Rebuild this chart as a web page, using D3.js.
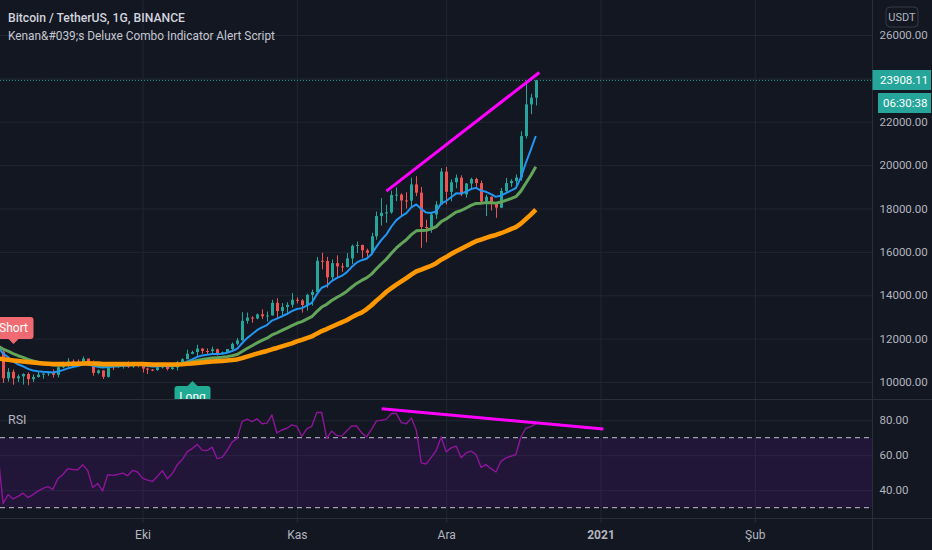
<!DOCTYPE html>
<html>
<head>
<meta charset="utf-8">
<script src="https://cdn.jsdelivr.net/npm/d3@7"></script>
<style>
    html, body { margin: 0; padding: 0; background: #131722; }
    svg { display: block; font-family: Roboto, "Noto Sans", sans-serif; }
</style>
</head>
<body>
<div id="chart"></div>
<script>
// daily BTC/USDT candles, 2 Sep - 19 Dec 2020 (first one sits just off the left edge)
const firstDay = "2020-09-02";
const lastDay = "2020-12-19";

const opens = [
    11964, 11398, 10170, 10470, 10170, 10260, 10370, 10130, 10230, 10340,
    10390, 10440, 10330, 10680, 10790, 10950, 10940, 10930, 11080, 10920,
    10420, 10530, 10240, 10740, 10690, 10730, 10780, 10710, 10840, 10780,
    10620, 10570, 10550, 10670, 10790, 10600, 10670, 10920, 11050, 11300,
    11380, 11540, 11430, 11425, 11510, 11320, 11370, 11520, 11760, 11920,
    12820, 12970, 12930, 13120, 13030, 13070, 13650, 13270, 13460, 13560,
    13790, 13760, 13550, 14020, 14150, 15590, 15580, 14830, 15480, 15330,
    15300, 15700, 16280, 16320, 16070, 15960, 16720, 17650, 17800, 17820,
    18620, 18640, 18370, 18360, 19110, 18730, 17150, 17140, 17720, 18180,
    19700, 18770, 19210, 19420, 18650, 19150, 19360, 19170, 18320, 18540,
    18250, 18040, 18810, 19170, 19270, 19430, 21340, 22800, 23110
];
const highs = [
    11964, 11462, 10640, 10580, 10350, 10400, 10440, 10350, 10480, 10400,
    10480, 10580, 10800, 10940, 11100, 11040, 11040, 11180, 11080, 10990,
    10580, 10540, 10780, 10760, 10780, 10800, 10950, 10860, 10850, 10920,
    10660, 10600, 10700, 10800, 10800, 10690, 10960, 11100, 11490, 11440,
    11720, 11560, 11550, 11630, 11540, 11400, 11520, 11820, 12030, 13220,
    13200, 13030, 13160, 13350, 13250, 13790, 13860, 13640, 13680, 14100,
    13900, 13820, 14070, 14260, 15770, 15960, 15770, 15650, 15840, 15480,
    15950, 16340, 16480, 16330, 16150, 16880, 17860, 18480, 18180, 18820,
    18970, 18700, 18750, 19420, 19490, 19000, 17480, 17850, 18340, 19860,
    19920, 19340, 19570, 19530, 19180, 19420, 19420, 19290, 18640, 18560,
    18290, 18950, 19410, 19350, 19570, 21560, 23800, 23290, 23920
];
const lows = [
    11160, 9960, 10020, 9875, 10000, 9880, 9850, 10000, 10200, 10150,
    10280, 10200, 10210, 10630, 10680, 10750, 10810, 10890, 10760, 10290,
    10360, 10140, 10200, 10550, 10650, 10620, 10650, 10650, 10670, 10440,
    10370, 10500, 10520, 10620, 10530, 10560, 10530, 10830, 11050, 11280,
    11180, 11300, 11260, 11270, 11220, 11300, 11340, 11400, 11690, 11900,
    12690, 12730, 12890, 12900, 12790, 13060, 12950, 12990, 13130, 13430,
    13620, 13200, 13290, 13520, 14100, 15190, 14350, 14700, 14800, 15080,
    15280, 15440, 15950, 15710, 15780, 15880, 16560, 17210, 17340, 17760,
    18340, 17610, 18000, 18020, 18570, 16190, 16440, 16880, 17520, 18180,
    18190, 18330, 18930, 18570, 18500, 18860, 18900, 18200, 17650, 17910,
    17570, 18020, 18710, 19000, 19050, 19280, 21230, 22350, 22750
];
const closes = [
    11398, 10170, 10470, 10170, 10260, 10370, 10130, 10230, 10340, 10390,
    10440, 10330, 10680, 10790, 10950, 10940, 10930, 11080, 10920, 10420,
    10530, 10240, 10740, 10690, 10730, 10780, 10710, 10840, 10780, 10620,
    10570, 10550, 10670, 10790, 10600, 10670, 10920, 11050, 11300, 11380,
    11540, 11430, 11425, 11510, 11320, 11370, 11520, 11760, 11920, 12820,
    12970, 12930, 13120, 13030, 13070, 13650, 13270, 13460, 13560, 13790,
    13760, 13550, 14020, 14150, 15590, 15580, 14830, 15480, 15330, 15300,
    15700, 16280, 16320, 16070, 15960, 16720, 17650, 17800, 17820, 18620,
    18640, 18370, 18360, 19110, 18730, 17150, 17140, 17720, 18180, 19700,
    18770, 19210, 19420, 18650, 19150, 19360, 19170, 18320, 18540, 18250,
    18040, 18810, 19170, 19270, 19430, 21340, 22800, 23110, 23908.11
];

// the three moving averages of the indicator script (blue / green / orange)
const maFast = [
    11600, 11314, 11145, 10950, 10812, 10724, 10605, 10530, 10492, 10472,
    10466, 10439, 10487, 10548, 10628, 10690, 10738, 10806, 10829, 10747,
    10704, 10671, 10697, 10708, 10724, 10747, 10752, 10782, 10794, 10771,
    10743, 10716, 10719, 10745, 10728, 10728, 10778, 10844, 10947, 11046,
    11157, 11224, 11257, 11296, 11290, 11305, 11346, 11429, 11527, 11786,
    12023, 12204, 12387, 12516, 12627, 12832, 12920, 13028, 13134, 13265,
    13364, 13401, 13525, 13650, 14038, 14346, 14443, 14651, 14787, 14890,
    15052, 15298, 15502, 15616, 15685, 15892, 16244, 16555, 16808, 17170,
    17464, 17645, 17788, 18052, 18188, 17980, 17812, 17794, 17871, 18237,
    18344, 18517, 18698, 18688, 18781, 18897, 18952, 18825, 18768, 18664,
    18539, 18593, 18709, 18821, 18943, 19422, 20098, 20700, 21342
];
const maMid = [
    11650, 11515, 11420, 11306, 11211, 11135, 11044, 10970, 10913, 10865,
    10826, 10781, 10772, 10774, 10790, 10804, 10815, 10839, 10846, 10807,
    10782, 10760, 10770, 10775, 10780, 10790, 10795, 10810, 10815, 10810,
    10800, 10790, 10790, 10800, 10795, 10795, 10815, 10845, 10890, 10940,
    10995, 11035, 11070, 11105, 11120, 11140, 11170, 11215, 11270, 11403,
    11545, 11671, 11803, 11915, 12020, 12168, 12268, 12376, 12484, 12603,
    12708, 12785, 12897, 13011, 13245, 13457, 13582, 13755, 13898, 14025,
    14177, 14368, 14545, 14684, 14800, 14975, 15218, 15453, 15668, 15936,
    16182, 16381, 16561, 16793, 16969, 16985, 16999, 17065, 17166, 17396,
    17521, 17675, 17834, 17908, 18021, 18143, 18236, 18244, 18271, 18269,
    18248, 18299, 18378, 18459, 18547, 18801, 19165, 19524, 19922
];
const maSlow = [
    11080, 11048, 11027, 10996, 10970, 10949, 10920, 10895, 10875, 10858,
    10843, 10830, 10830, 10830, 10835, 10840, 10845, 10855, 10860, 10855,
    10850, 10835, 10835, 10832, 10830, 10830, 10828, 10830, 10830, 10825,
    10818, 10810, 10808, 10810, 10805, 10803, 10808, 10818, 10836, 10856,
    10880, 10900, 10920, 10940, 10955, 10970, 10990, 11015, 11040, 11100,
    11170, 11240, 11310, 11370, 11430, 11510, 11570, 11640, 11710, 11780,
    11870, 11940, 12020, 12100, 12230, 12350, 12440, 12550, 12650, 12750,
    12850, 12980, 13100, 13200, 13350, 13540, 13750, 13950, 14160, 14330,
    14490, 14640, 14790, 14950, 15100, 15180, 15270, 15360, 15480, 15640,
    15760, 15900, 16030, 16140, 16260, 16380, 16490, 16570, 16650, 16720,
    16780, 16860, 16950, 17050, 17140, 17300, 17510, 17720, 17950
];

const rsiValues = [
    60, 32.5, 37.5, 35, 36.5, 38.3, 35.8, 37.5, 39.5, 41,
    42, 40.5, 46.5, 49, 52.3, 51.8, 51.7, 54.6, 51.2, 41.5,
    43.8, 39.6, 48.8, 48.5, 49, 49.8, 48.3, 51.3, 50.4, 46.9,
    45.8, 45, 48, 51.2, 46.5, 49.5, 54.6, 57.5, 62, 63.8,
    66.2, 62.9, 62.7, 64.6, 58, 58.8, 62.7, 67.5, 69.6, 79.2,
    80.6, 79.2, 80.8, 78, 78.3, 83, 72.7, 74.4, 75.4, 77.3,
    76.5, 70.8, 75, 76.5, 84.4, 84.4, 69.6, 73.8, 71.3, 70.9,
    73.8, 76.7, 76.7, 72.9, 70.4, 74.8, 79.6, 80, 80.6, 83.8,
    83.8, 78.6, 78, 81.2, 74.2, 55.6, 55, 58.8, 62.7, 70.4,
    61.9, 64.2, 65.2, 58.5, 61.3, 62.3, 60.4, 53.1, 54.6, 52.3,
    50.4, 56.5, 58.5, 59.4, 60.4, 70.4, 75.4, 76.3, 78
];

const priceTicks = [10000, 12000, 14000, 16000, 18000, 20000, 22000, 24000, 26000];
const priceLabelTicks = [10000, 12000, 14000, 16000, 18000, 20000, 22000, 26000]; // 24000 hidden by last price tag
const rsiTicks = [40, 60, 80];
const rsiBands = [30, 70];
const monthTicks = ["2020-10-01", "2020-11-01", "2020-12-01", "2021-01-01", "2021-02-01"];
const monthLabels = ["Eki", "Kas", "Ara", "2021", "Şub"];

const lastPrice = 23908.11;
const countdown = "06:30:38";
const currency = "USDT";
const titleText = "Bitcoin / TetherUS, 1G, BINANCE";
const studyText = "Kenan&#039;s Deluxe Combo Indicator Alert Script";

// alert labels of the script
const signalNames = ["Short", "Long"];
const signalDates = ["2020-09-05", "2020-10-11"];
const signalPrices = [11750, 10050];

// hand drawn divergence lines
const priceTrendDates = ["2020-11-19T00:00Z", "2020-12-19T17:00Z"];
const priceTrendValues = [18800, 24270];
const rsiTrendDates = ["2020-11-18T01:00Z", "2021-01-01T14:00Z"];
const rsiTrendValues = [86.5, 75];

const W = 932, H = 550;
const plotW = 872.5;        // right price scale starts here
const mainBottom = 399.5;
const rsiTop = 400, rsiBottom = 518.5;

const bg = "#131722", gridColor = "#222632", lineColor = "#2a2e39", textColor = "#b2b5be";
const up = "#26a69a", down = "#ef5350";

const days = d3.utcDays(new Date(firstDay), d3.utcDay.offset(new Date(lastDay), 1));
const candles = days.map((d, i) => ({date: d, o: opens[i], h: highs[i], l: lows[i], c: closes[i]}));

const x = d3.scaleUtc()
    .domain([new Date("2020-10-01"), new Date("2021-01-01")])
    .range([142.5, 600.5]);
const y = d3.scaleLinear().domain([10000, 26000]).range([382, 35]);
const rsiY = d3.scaleLinear().domain([30, 70]).range([507.7, 437.7]);

const svg = d3.select("#chart").append("svg")
    .attr("width", W)
    .attr("height", H);

svg.append("rect").attr("width", W).attr("height", H).attr("fill", bg);

const defs = svg.append("defs");
defs.append("clipPath").attr("id", "mainClip")
    .append("rect").attr("x", 0).attr("y", 0).attr("width", plotW).attr("height", mainBottom);
defs.append("clipPath").attr("id", "rsiClip")
    .append("rect").attr("x", 0).attr("y", rsiTop).attr("width", plotW).attr("height", rsiBottom - rsiTop);

// grid
const monthDates = monthTicks.map(d => new Date(d));

svg.append("g")
    .attr("transform", "translate(0," + rsiBottom + ")")
    .call(d3.axisBottom(x).tickValues(monthDates).tickSize(-rsiBottom).tickFormat(""))
    .call(g => g.select(".domain").remove())
    .call(g => g.selectAll("line").attr("stroke", gridColor));

svg.append("g")
    .attr("transform", "translate(" + plotW + ",0)")
    .call(d3.axisLeft(y).tickValues(priceTicks).tickSize(plotW).tickFormat(""))
    .call(g => g.select(".domain").remove())
    .call(g => g.selectAll("line").attr("stroke", gridColor));

svg.append("g")
    .attr("transform", "translate(" + plotW + ",0)")
    .call(d3.axisLeft(rsiY).tickValues(rsiTicks).tickSize(plotW).tickFormat(""))
    .call(g => g.select(".domain").remove())
    .call(g => g.selectAll("line").attr("stroke", gridColor));

// ---- main pane
const main = svg.append("g").attr("clip-path", "url(#mainClip)");

main.append("line")
    .attr("x1", 0).attr("x2", plotW)
    .attr("y1", y(lastPrice)).attr("y2", y(lastPrice))
    .attr("stroke", up)
    .attr("stroke-dasharray", "1,2");

const candle = main.append("g").selectAll("g")
    .data(candles)
    .enter().append("g")
    .attr("fill", d => d.c >= d.o ? up : down)
    .attr("stroke", d => d.c >= d.o ? up : down);

candle.append("line")
    .attr("x1", d => Math.round(x(d.date)) + 0.5)
    .attr("x2", d => Math.round(x(d.date)) + 0.5)
    .attr("y1", d => y(d.h))
    .attr("y2", d => y(d.l));

candle.append("rect")
    .attr("stroke", "none")
    .attr("x", d => Math.round(x(d.date)) - 1)
    .attr("width", 3)
    .attr("y", d => Math.min(y(d.o), y(d.c)))
    .attr("height", d => Math.max(1, Math.abs(y(d.o) - y(d.c))));

const maLine = d3.line()
    .x(d => x(d.date))
    .y(d => y(d.value));

[[maFast, "#2196f3", 2], [maMid, "#62a55a", 3], [maSlow, "#ff9800", 4.5]].forEach(([values, color, width]) => {
    main.append("path")
        .datum(days.map((d, i) => ({date: d, value: values[i]})))
        .attr("fill", "none")
        .attr("stroke", color)
        .attr("stroke-width", width)
        .attr("stroke-linejoin", "round")
        .attr("d", maLine);
});

main.append("path")
    .datum(priceTrendDates.map((d, i) => ({date: new Date(d), value: priceTrendValues[i]})))
    .attr("fill", "none")
    .attr("stroke", "#ff00ff")
    .attr("stroke-width", 3)
    .attr("d", maLine);

// Short / Long alert labels
signalNames.forEach((name, i) => {
    const cx = Math.round(x(new Date(signalDates[i]))) + 0.5;
    const tip = y(signalPrices[i]);
    const isShort = name === "Short";
    const w = isShort ? 40 : 36, h = 22;
    const boxY = isShort ? tip - 5 - h : tip + 5;
    const edge = isShort ? tip - 5 : tip + 5;
    const color = isShort ? "#f06a72" : "#22ab94";
    const lab = main.append("g");
    lab.append("rect")
        .attr("x", cx - w / 2).attr("y", boxY)
        .attr("width", w).attr("height", h)
        .attr("rx", 3)
        .attr("fill", color);
    lab.append("path")
        .attr("d", "M" + (cx - 5) + "," + edge + "L" + cx + "," + tip + "L" + (cx + 5) + "," + edge + "Z")
        .attr("fill", color);
    lab.append("text")
        .attr("x", cx).attr("y", boxY + h / 2)
        .attr("dy", "0.35em")
        .attr("text-anchor", "middle")
        .attr("fill", "#ffffff")
        .attr("font-size", 12)
        .text(name);
});

svg.append("text")
    .attr("x", 8).attr("y", 22)
    .attr("fill", "#d1d4dc")
    .attr("font-size", 13)
    .attr("font-weight", 500)
    .attr("textLength", 177)
    .attr("lengthAdjust", "spacingAndGlyphs")
    .text(titleText);

svg.append("text")
    .attr("x", 8).attr("y", 39.5)
    .attr("fill", "#c4c7cf")
    .attr("font-size", 13)
    .attr("textLength", 267)
    .attr("lengthAdjust", "spacingAndGlyphs")
    .text(studyText);

// ---- RSI pane
const rsiPane = svg.append("g").attr("clip-path", "url(#rsiClip)");

rsiPane.append("rect")
    .attr("x", 0).attr("width", plotW)
    .attr("y", rsiY(rsiBands[1]))
    .attr("height", rsiY(rsiBands[0]) - rsiY(rsiBands[1]))
    .attr("fill", "rgba(153, 21, 255, 0.1)");

rsiPane.selectAll(".band")
    .data(rsiBands)
    .enter().append("line")
    .attr("class", "band")
    .attr("x1", 0).attr("x2", plotW)
    .attr("y1", d => rsiY(d)).attr("y2", d => rsiY(d))
    .attr("stroke", "#c0c3ca")
    .attr("stroke-dasharray", "5,4");

const rsiLine = d3.line()
    .x(d => x(d.date))
    .y(d => rsiY(d.value));

rsiPane.append("path")
    .datum(days.map((d, i) => ({date: d, value: rsiValues[i]})))
    .attr("fill", "none")
    .attr("stroke", "#8e1599")
    .attr("stroke-width", 1.4)
    .attr("stroke-linejoin", "round")
    .attr("d", rsiLine);

rsiPane.append("path")
    .datum(rsiTrendDates.map((d, i) => ({date: new Date(d), value: rsiTrendValues[i]})))
    .attr("fill", "none")
    .attr("stroke", "#ff00ff")
    .attr("stroke-width", 3)
    .attr("d", rsiLine);

svg.append("text")
    .attr("x", 8).attr("y", 424)
    .attr("fill", textColor)
    .attr("font-size", 12.5)
    .text("RSI");

// separators
svg.append("line")
    .attr("x1", 0).attr("x2", W).attr("y1", mainBottom).attr("y2", mainBottom)
    .attr("stroke", lineColor);
svg.append("line")
    .attr("x1", 0).attr("x2", W).attr("y1", rsiBottom).attr("y2", rsiBottom)
    .attr("stroke", lineColor);
svg.append("line")
    .attr("x1", plotW).attr("x2", plotW).attr("y1", 0).attr("y2", H)
    .attr("stroke", lineColor);

// ---- axes
const styleAxis = g => {
    g.select(".domain").remove();
    g.selectAll("text").attr("fill", textColor).attr("font-size", 11.5).attr("font-family", "Roboto, sans-serif");
};

svg.append("g")
    .attr("transform", "translate(" + plotW + ",0)")
    .call(d3.axisRight(y).tickValues(priceLabelTicks).tickSize(0).tickPadding(7).tickFormat(d3.format(".2f")))
    .call(styleAxis);

svg.append("g")
    .attr("transform", "translate(" + plotW + ",0)")
    .call(d3.axisRight(rsiY).tickValues(rsiTicks).tickSize(0).tickPadding(7).tickFormat(d3.format(".2f")))
    .call(styleAxis);

svg.append("g")
    .attr("transform", "translate(0," + rsiBottom + ")")
    .call(d3.axisBottom(x).tickValues(monthDates).tickSize(4).tickPadding(8)
        .tickFormat((d, i) => monthLabels[i]))
    .call(styleAxis)
    .call(g => g.selectAll("line").attr("stroke", lineColor))
    .call(g => g.selectAll("text")
        .attr("font-size", 12)
        .attr("font-weight", (d, i) => monthLabels[i] === "2021" ? 700 : 400));

// currency badge
svg.append("rect")
    .attr("x", 886).attr("y", 7).attr("width", 32).attr("height", 20).attr("rx", 4)
    .attr("fill", bg).attr("stroke", "#363a45");
svg.append("text")
    .attr("x", 902).attr("y", 17).attr("dy", "0.35em")
    .attr("text-anchor", "middle")
    .attr("fill", textColor)
    .attr("font-size", 11)
    .text(currency);

// last price tag + bar countdown
const tagY = Math.round(y(lastPrice)) - 10;
svg.append("rect")
    .attr("x", plotW).attr("y", tagY).attr("width", W - plotW - 1).attr("height", 20)
    .attr("fill", up);
svg.append("text")
    .attr("x", 880).attr("y", tagY + 10).attr("dy", "0.35em")
    .attr("fill", "#ffffff").attr("font-size", 11.5)
    .text(d3.format(".2f")(lastPrice));
svg.append("rect")
    .attr("x", 878).attr("y", tagY + 23).attr("width", W - 879).attr("height", 20)
    .attr("fill", up);
svg.append("text")
    .attr("x", 883).attr("y", tagY + 33).attr("dy", "0.35em")
    .attr("fill", "#ffffff").attr("font-size", 11.5)
    .text(countdown);
</script>
</body>
</html>
